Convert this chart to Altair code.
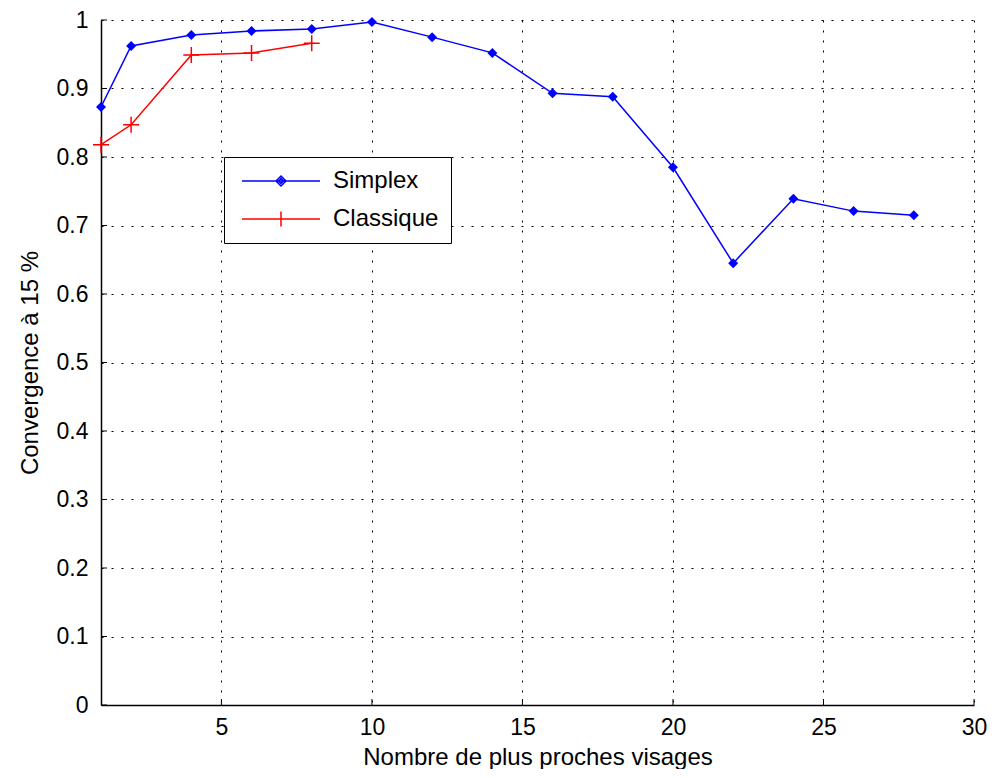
import altair as alt
import pandas as pd

simplex_x = [1, 2, 4, 6, 8, 10, 12, 14, 16, 18, 20, 22, 24, 26, 28]
simplex_y = [0.873, 0.962, 0.978, 0.984, 0.987, 0.997, 0.975, 0.952, 0.893, 0.888, 0.785, 0.645, 0.739, 0.721, 0.715]
classique_x = [1, 2, 4, 6, 8]
classique_y = [0.818, 0.847, 0.949, 0.952, 0.966]
series_names = ["Simplex", "Classique"]
series_colors = ["#0000ff", "#ff0000"]
x_ticks = [5, 10, 15, 20, 25, 30]
y_ticks = [0, 0.1, 0.2, 0.3, 0.4, 0.5, 0.6, 0.7, 0.8, 0.9, 1]

FONT = "Liberation Sans"
FS = 24
LFS = 23
W, H = 873, 685

df = pd.DataFrame({
    "x": simplex_x + classique_x,
    "y": simplex_y + classique_y,
    "serie": ["Simplex"] * len(simplex_x) + ["Classique"] * len(classique_x),
})
xt = pd.DataFrame({"x": x_ticks})
yt = pd.DataFrame({"y": y_ticks})

xscale = alt.Scale(domain=[1, 30], nice=False, zero=False)
yscale = alt.Scale(domain=[0, 1], nice=False)

xaxis = alt.Axis(values=x_ticks, title="Nombre de plus proches visages", tickSize=0,
                 labelPadding=11, grid=True, gridDash=[2, 8], gridColor="black", gridOpacity=1,
                 gridWidth=1, domainColor="black", domainWidth=1.5, labelFont=FONT, labelFontSize=LFS,
                 labelColor="black", titleFont=FONT, titleFontSize=FS, titleFontWeight="normal",
                 titleColor="black", titleY=52, titleBaseline="middle", labelFlush=False)
yaxis = alt.Axis(values=y_ticks, format="~g", title="Convergence à 15 %", tickSize=0,
                 labelPadding=13, grid=True, gridDash=[2, 8], gridColor="black", gridOpacity=1,
                 gridWidth=1, domainColor="black", domainWidth=1.5, labelFont=FONT, labelFontSize=LFS,
                 labelColor="black", titleFont=FONT, titleFontSize=FS, titleFontWeight="normal",
                 titleColor="black", titleX=-71, titleY=H / 2, titleAngle=270,
                 titleBaseline="middle", labelFlush=False)

base = alt.Chart(df)

grid_layer = base.mark_point(opacity=0).encode(
    x=alt.X("x:Q", scale=xscale, axis=xaxis),
    y=alt.Y("y:Q", scale=yscale, axis=yaxis),
)

s_line = base.transform_filter("datum.serie == 'Simplex'").mark_line(
    color=series_colors[0], strokeWidth=1.5).encode(x="x:Q", y="y:Q", order="x:Q")
c_line = base.transform_filter("datum.serie == 'Classique'").mark_line(
    color=series_colors[1], strokeWidth=1.5).encode(x="x:Q", y="y:Q", order="x:Q")

s_pts = base.transform_filter("datum.serie == 'Simplex'").mark_point(
    shape="diamond", size=100, filled=True, color=series_colors[0], opacity=1).encode(x="x:Q", y="y:Q")
c_pts = base.transform_filter("datum.serie == 'Classique'").mark_point(
    shape="M-1,0H1M0,-1V1", size=256, filled=False, color=series_colors[1], strokeWidth=1.5,
    opacity=1).encode(x="x:Q", y="y:Q")

legend_paths = [
    "M-7.8,0H7.8M-1,0L0,-1L1,0L0,1ZM-0.5,0L0,-0.5L0.5,0L0,0.5Z",
    "M-7.8,0H7.8M0,-1.5V1.5",
]


def make_legend():
    return alt.Legend(title=None, orient="none", legendX=123, legendY=137,
                      padding=12, strokeColor="black", fillColor="white",
                      symbolSize=100, symbolOffset=33, labelOffset=40,
                      rowPadding=14, labelFont=FONT, labelFontSize=FS,
                      labelColor="black", symbolStrokeWidth=1.5, symbolOpacity=1)


legend_layer = base.transform_filter("false").mark_point(filled=False, opacity=1, strokeWidth=1.5).encode(
    x="x:Q", y="y:Q",
    color=alt.Color("serie:N", scale=alt.Scale(domain=series_names, range=series_colors),
                    legend=make_legend()),
    shape=alt.Shape("serie:N", scale=alt.Scale(domain=series_names, range=legend_paths),
                    legend=make_legend()),
)

xtick_layer = alt.Chart(xt).mark_rule(color="black", strokeWidth=1).encode(
    x="x:Q", y=alt.value(H), y2=alt.value(H - 6))
ytick_layer = alt.Chart(yt).mark_rule(color="black", strokeWidth=1).encode(
    y="y:Q", x=alt.value(0), x2=alt.value(6))

chart = alt.layer(
    grid_layer, xtick_layer, ytick_layer, c_line, s_line, c_pts, s_pts, legend_layer
).properties(
    width=W, height=H,
    autosize=alt.AutoSizeParams(type="none"),
    padding={"left": 93, "top": 12, "right": 14, "bottom": 64},
    background="white",
).configure_view(stroke=None)

chart.save("out.html", embed_options={"renderer": "svg", "actions": False})
